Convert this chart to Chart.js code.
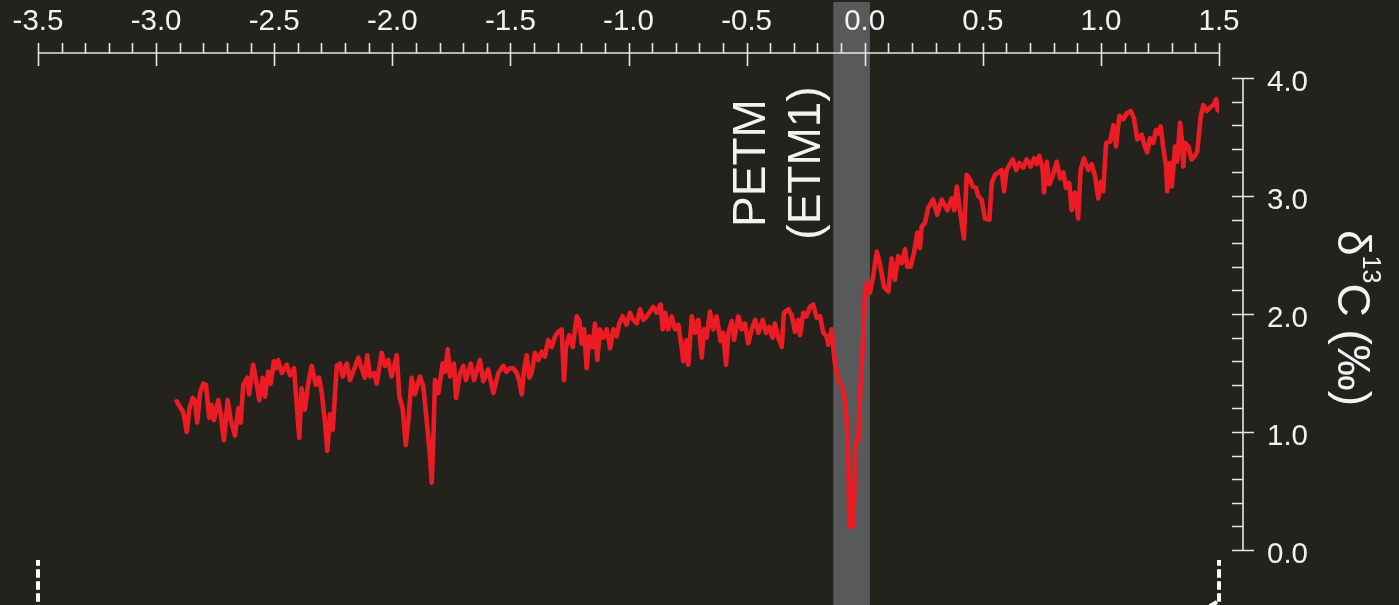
<!DOCTYPE html>
<html>
<head>
<meta charset="utf-8">
<script src="https://cdn.jsdelivr.net/npm/chart.js@4.4.1/dist/chart.umd.min.js"></script>
<style>
  html, body { margin: 0; padding: 0; background: #23221c; overflow: hidden; }
  canvas { display: block; }
</style>
</head>
<body>
<canvas id="chart" width="1399" height="605"></canvas>
<script>
// Time relative to the PETM onset (Myr) and bulk carbonate δ13C (‰), split by interval.
const paleoceneEarlyTime = [-2.913,-2.885,-2.870,-2.859,-2.845,-2.835,-2.826,-2.814,-2.800,-2.789,-2.775,-2.765,-2.755,-2.737,-2.727,-2.713,-2.697,-2.684,-2.666,-2.652,-2.642,-2.631,-2.614,-2.606,-2.589,-2.577,-2.563,-2.549,-2.539,-2.525,-2.515,-2.501,-2.492,-2.483,-2.468,-2.447,-2.433,-2.416,-2.405,-2.394,-2.384,-2.370,-2.356,-2.341,-2.324,-2.310,-2.299,-2.285,-2.275,-2.264,-2.252,-2.235,-2.221,-2.210,-2.193,-2.179,-2.162,-2.144,-2.130,-2.116,-2.106,-2.094,-2.077,-2.066,-2.045,-2.031,-2.017,-2.003,-1.981,-1.970,-1.956,-1.943,-1.932,-1.918,-1.904,-1.883,-1.869,-1.852,-1.840,-1.833,-1.826,-1.819,-1.805,-1.787,-1.777,-1.765,-1.756,-1.739,-1.730,-1.713,-1.699,-1.688,-1.668,-1.654,-1.629,-1.615,-1.594,-1.572,-1.551];
const paleoceneEarlyD13C = [1.26,1.17,1.00,1.20,1.29,1.26,1.08,1.33,1.41,1.40,1.12,1.23,1.10,1.27,1.16,0.93,1.27,1.10,0.97,1.20,1.08,1.40,1.46,1.32,1.57,1.44,1.27,1.46,1.30,1.51,1.41,1.60,1.54,1.61,1.50,1.57,1.48,1.54,1.24,0.95,1.37,1.19,1.41,1.56,1.40,1.46,1.34,1.08,0.84,1.15,1.02,1.56,1.58,1.47,1.58,1.44,1.53,1.63,1.54,1.46,1.65,1.47,1.50,1.41,1.67,1.56,1.61,1.47,1.65,1.30,1.20,0.89,1.10,1.46,1.32,1.47,1.39,1.05,0.79,0.57,0.96,1.44,1.33,1.58,1.51,1.70,1.47,1.58,1.29,1.50,1.56,1.44,1.58,1.44,1.61,1.43,1.53,1.33,1.50];

const paleoceneLateTime = [-1.530,-1.516,-1.502,-1.488,-1.473,-1.462,-1.452,-1.442,-1.431,-1.420,-1.410,-1.396,-1.382,-1.367,-1.354,-1.340,-1.325,-1.311,-1.297,-1.283,-1.273,-1.265,-1.251,-1.236,-1.219,-1.208,-1.198,-1.188,-1.177,-1.166,-1.152,-1.142,-1.132,-1.121,-1.107,-1.092,-1.078,-1.064,-1.050,-1.039,-1.025,-1.008,-0.994,-0.980,-0.965,-0.951,-0.937,-0.923,-0.909,-0.895,-0.881,-0.864,-0.855,-0.844,-0.832,-0.817,-0.803,-0.789,-0.775,-0.768,-0.754,-0.747,-0.732,-0.718,-0.704,-0.690,-0.680,-0.669,-0.655,-0.641,-0.627,-0.610,-0.599,-0.587,-0.577,-0.563,-0.553,-0.535,-0.521,-0.507,-0.493,-0.478,-0.464,-0.450,-0.432,-0.418,-0.404,-0.390,-0.380,-0.366,-0.351,-0.342,-0.323,-0.309,-0.295,-0.281,-0.274,-0.260,-0.246,-0.232,-0.218,-0.203,-0.189,-0.175,-0.161,-0.154,-0.140];
const paleoceneLateD13C = [1.56,1.51,1.54,1.54,1.50,1.43,1.32,1.53,1.65,1.46,1.50,1.67,1.61,1.68,1.64,1.78,1.72,1.81,1.85,1.87,1.44,1.72,1.82,1.72,1.98,1.94,1.75,1.87,1.54,1.81,1.72,1.92,1.61,1.87,1.80,1.87,1.71,1.87,1.81,1.92,1.98,1.91,2.01,1.95,1.92,2.04,1.95,1.98,2.02,2.06,2.01,2.08,1.87,2.01,1.87,1.98,1.87,1.91,1.72,1.60,1.78,1.57,1.98,1.84,1.95,1.63,1.87,1.80,2.02,1.87,1.98,1.77,1.84,1.57,1.84,1.94,1.78,1.98,1.87,1.92,1.75,1.87,1.95,1.84,1.95,1.84,1.89,1.80,1.92,1.80,1.72,2.01,2.04,1.99,1.85,1.95,1.82,2.01,1.98,2.06,2.08,1.97,1.98,1.84,1.81,1.74,1.87];

const petmTime = [-0.133,-0.126,-0.112,-0.097,-0.088,-0.076,-0.069,-0.065,-0.051,-0.045,-0.037,-0.027,-0.020,-0.008,0.001,0.006];
const petmD13C = [1.72,1.58,1.44,1.39,1.33,1.10,0.74,0.20,0.20,0.42,0.91,0.93,1.30,1.72,2.18,2.26];

const eoceneTime = [0.022,0.036,0.051,0.065,0.082,0.100,0.114,0.128,0.142,0.157,0.171,0.180,0.195,0.209,0.223,0.234,0.241,0.255,0.269,0.290,0.307,0.326,0.350,0.368,0.379,0.390,0.403,0.420,0.432,0.446,0.457,0.471,0.481,0.495,0.509,0.528,0.538,0.552,0.566,0.580,0.590,0.601,0.615,0.627,0.641,0.655,0.671,0.686,0.703,0.717,0.728,0.739,0.754,0.759,0.771,0.782,0.796,0.813,0.827,0.841,0.852,0.866,0.876,0.890,0.904,0.914,0.928,0.947,0.961,0.975,0.989,0.999,1.010,1.022,1.039,1.053,1.064,1.078,1.095,1.109,1.126,1.140,1.154,1.173,1.183,1.196,1.208,1.222,1.233,1.243,1.253,1.264,1.276,1.281,1.293,1.300,1.314,1.323,1.335,1.342,1.349,1.356,1.370,1.384,1.398,1.408,1.417,1.423,1.434,1.448,1.462,1.476,1.488,1.494,1.501];
const eoceneD13C = [2.18,2.32,2.53,2.42,2.23,2.19,2.47,2.29,2.49,2.43,2.55,2.40,2.40,2.52,2.69,2.56,2.74,2.77,2.90,2.97,2.84,2.97,2.88,2.98,2.88,3.08,2.88,2.64,3.18,3.14,3.08,3.07,3.00,2.97,2.81,2.80,3.11,3.18,3.20,3.22,3.04,3.22,3.27,3.31,3.22,3.28,3.24,3.31,3.25,3.32,3.27,3.34,3.22,3.03,3.29,3.10,3.17,3.29,3.15,3.20,3.07,3.11,2.88,3.03,2.81,3.22,3.32,3.22,3.27,3.17,2.98,3.12,3.04,3.45,3.46,3.60,3.42,3.68,3.65,3.70,3.72,3.66,3.48,3.52,3.44,3.37,3.49,3.45,3.56,3.53,3.59,3.41,3.25,3.04,3.28,3.08,3.42,3.29,3.62,3.49,3.25,3.45,3.42,3.31,3.34,3.38,3.56,3.68,3.77,3.72,3.75,3.77,3.82,3.73,3.72];

// Axis tick values
const timeMajorTicks = [-3.5,-3.0,-2.5,-2.0,-1.5,-1.0,-0.5,0.0,0.5,1.0,1.5];
const timeMinorStep = 0.1;
const d13CMajorTicks = [0,1,2,3,4];
const d13CMinorStep = 0.2;

// PETM interval (shaded band)
const petmStart = -0.133;
const petmEnd = 0.022;
const petmLabelLines = ['PETM', '(ETM1)'];

const timeAll = [].concat(paleoceneEarlyTime, paleoceneLateTime, petmTime, eoceneTime);
const d13CAll = [].concat(paleoceneEarlyD13C, paleoceneLateD13C, petmD13C, eoceneD13C);
const points = timeAll.map((t, i) => ({ x: t, y: d13CAll[i] }));

const FONT = '"Liberation Sans", Arial, Helvetica, sans-serif';
const BG = '#23221c';
const AXIS = '#e6e6e6';
const TEXT = '#f2f2f2';

const decor = {
  id: 'decor',
  beforeDraw(chart) {
    const { ctx, scales: { x } } = chart;
    ctx.save();
    ctx.fillStyle = BG;
    ctx.fillRect(0, 0, chart.width, chart.height);
    // PETM band spans the full height of the figure
    const x1 = x.getPixelForValue(petmStart);
    const x2 = x.getPixelForValue(petmEnd);
    ctx.fillStyle = '#58595b';
    ctx.fillRect(x1, 2, x2 - x1, chart.height - 2);
    ctx.restore();
  },
  afterDraw(chart) {
    const { ctx, chartArea: area, scales: { x, y } } = chart;
    ctx.save();
    ctx.strokeStyle = AXIS;
    ctx.fillStyle = TEXT;
    ctx.lineWidth = 1.6;
    ctx.lineCap = 'butt';

    // Top time axis
    const axY = area.top - 25;
    const xMin = timeMajorTicks[0], xMax = timeMajorTicks[timeMajorTicks.length - 1];
    ctx.beginPath();
    ctx.moveTo(x.getPixelForValue(xMin), axY);
    ctx.lineTo(x.getPixelForValue(xMax), axY);
    ctx.stroke();
    const nMinor = Math.round((xMax - xMin) / timeMinorStep);
    ctx.beginPath();
    for (let i = 0; i <= nMinor; i++) {
      const v = xMin + i * timeMinorStep;
      const px = Math.round(x.getPixelForValue(v)) + 0.5;
      const major = timeMajorTicks.some(t => Math.abs(t - v) < 1e-6);
      ctx.moveTo(px, axY - 10);
      ctx.lineTo(px, major ? axY + 13 : axY);
    }
    ctx.stroke();
    ctx.font = '29.5px ' + FONT;
    ctx.textAlign = 'center';
    ctx.textBaseline = 'alphabetic';
    timeMajorTicks.forEach(v => {
      ctx.fillText(v.toFixed(1), x.getPixelForValue(v), axY - 23);
    });

    // Right δ13C axis
    const axX = area.right + 24;
    const yMin = d13CMajorTicks[0], yMax = d13CMajorTicks[d13CMajorTicks.length - 1];
    ctx.beginPath();
    ctx.moveTo(axX, y.getPixelForValue(yMax));
    ctx.lineTo(axX, y.getPixelForValue(yMin));
    ctx.stroke();
    const nyMinor = Math.round((yMax - yMin) / d13CMinorStep);
    ctx.beginPath();
    for (let i = 0; i <= nyMinor; i++) {
      const v = yMin + i * d13CMinorStep;
      const py = Math.round(y.getPixelForValue(v)) + 0.5;
      const major = d13CMajorTicks.some(t => Math.abs(t - v) < 1e-6);
      ctx.moveTo(axX - 11, py);
      ctx.lineTo(major ? axX + 11 : axX, py);
    }
    ctx.stroke();
    ctx.textAlign = 'left';
    d13CMajorTicks.forEach(v => {
      ctx.fillText(v.toFixed(1), axX + 24, y.getPixelForValue(v) + 13);
    });

    // Axis title δ13C (‰), reading downward
    const big = '46px ' + FONT, small = '25px ' + FONT;
    const parts = [
      { t: 'δ', f: big, dy: 0 },
      { t: '13', f: small, dy: -25 },
      { t: 'C (‰)', f: big, dy: 0 }
    ];
    let total = 0;
    parts.forEach(p => { ctx.font = p.f; p.w = ctx.measureText(p.t).width; total += p.w; });
    const titleCenterY = (y.getPixelForValue(yMin) + y.getPixelForValue(yMax)) / 2 + 4;
    ctx.save();
    ctx.translate(axX + 95, titleCenterY - total / 2);
    ctx.rotate(Math.PI / 2);
    let cx = 0;
    parts.forEach(p => { ctx.font = p.f; ctx.fillText(p.t, cx, p.dy); cx += p.w; });
    ctx.restore();

    // PETM label, reading upward, to the left of the band
    const bandLeft = x.getPixelForValue(petmStart);
    ctx.font = '46px ' + FONT;
    ctx.textAlign = 'center';
    petmLabelLines.forEach((line, i) => {
      ctx.save();
      ctx.translate(bandLeft - 68 + i * 55, area.top + 85);
      ctx.rotate(-Math.PI / 2);
      ctx.fillText(line, 0, 0);
      ctx.restore();
    });

    // Dashed connectors below the panel
    ctx.strokeStyle = '#ffffff';
    ctx.lineWidth = 4;
    ctx.setLineDash([8.5, 3.5]);
    ctx.lineDashOffset = 2.8;
    [xMin, xMax].forEach(v => {
      const px = x.getPixelForValue(v);
      ctx.beginPath();
      ctx.moveTo(px, area.bottom + 10);
      ctx.lineTo(px, chart.height + 2);
      ctx.stroke();
    });
    ctx.lineDashOffset = 0;
    ctx.beginPath();
    const rx = x.getPixelForValue(xMax);
    ctx.moveTo(rx - 2, chart.height - 3);
    ctx.lineTo(rx - 14, chart.height + 4);
    ctx.stroke();
    ctx.restore();
  }
};

new Chart(document.getElementById('chart'), {
  type: 'line',
  data: {
    datasets: [{
      data: points,
      borderColor: '#ed1c24',
      borderWidth: 4.6,
      pointRadius: 0,
      tension: 0,
      borderJoinStyle: 'round',
      borderCapStyle: 'round',
      fill: false
    }]
  },
  options: {
    responsive: false,
    animation: false,
    devicePixelRatio: 1,
    layout: { padding: { left: 38, right: 180, top: 78, bottom: 55 } },
    plugins: { legend: { display: false }, tooltip: { enabled: false } },
    scales: {
      x: { type: 'linear', min: -3.5, max: 1.5, display: false },
      y: { type: 'linear', min: 0, max: 4, display: false }
    }
  },
  plugins: [decor]
});
</script>
</body>
</html>
